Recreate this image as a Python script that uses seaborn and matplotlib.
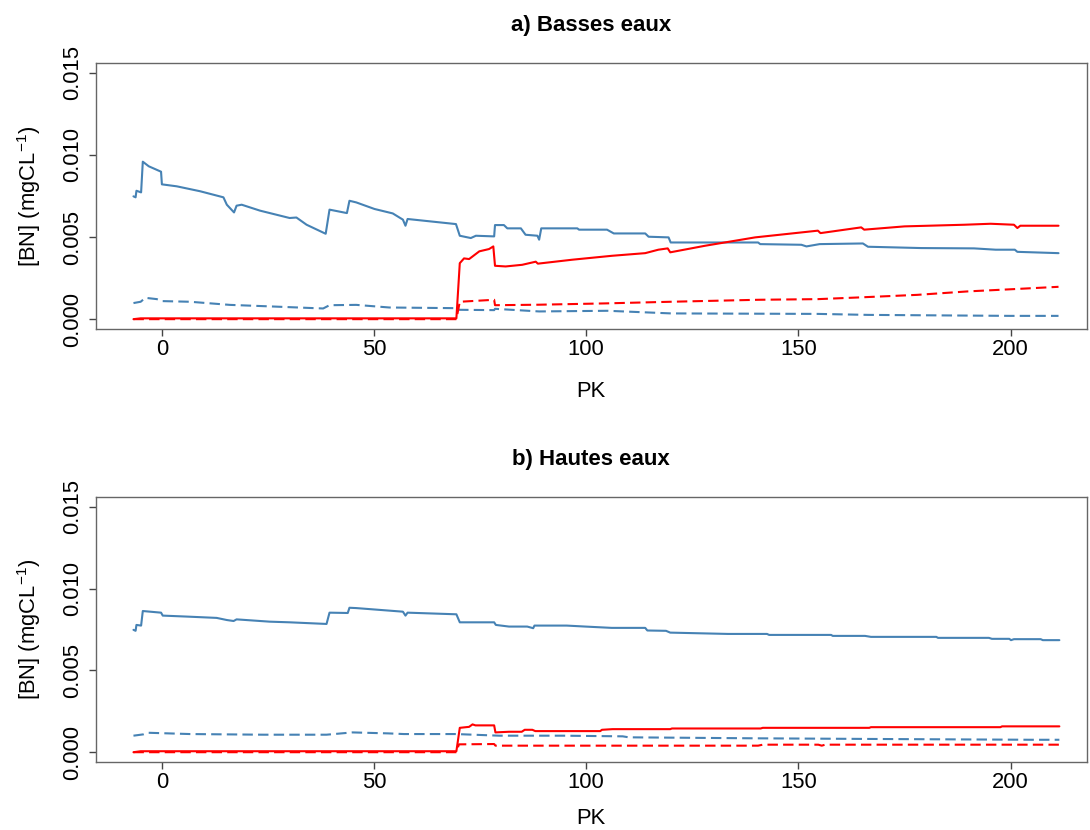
import numpy as np
import pandas as pd
import seaborn as sns
import matplotlib.pyplot as plt

# a) Basses eaux
a_blue_pk = [-6.7, -6.2, -6.0, -4.9, -4.5, -3.1, -0.2, 0.0, 3.5, 9.0, 14.5, 15.3, 17.0, 17.6, 18.8,
             23.1, 30.1, 31.7, 34.1, 38.6, 39.5, 43.6, 44.2, 45.8, 50.1, 54.4, 56.8, 57.4, 57.9, 69.3,
             70.2, 72.8, 74.0, 78.3, 78.5, 80.6, 81.4, 84.6, 85.7, 88.5, 88.9, 89.4, 97.9, 98.3, 104.9,
             106.5, 113.9, 114.7, 119.4, 119.9, 140.5, 141.0, 150.7, 151.9, 155.0, 165.2, 166.4, 172.7,
             178.9, 191.4, 196.5, 201.0, 201.6, 211.3]
a_blue_val = [0.00748, 0.00742, 0.00782, 0.00772, 0.00959, 0.00931, 0.00898, 0.00821, 0.00809, 0.00779,
              0.00742, 0.00697, 0.00650, 0.00691, 0.00697, 0.00661, 0.00616, 0.00619, 0.00575, 0.00520,
              0.00667, 0.00646, 0.00721, 0.00711, 0.00671, 0.00644, 0.00606, 0.00569, 0.00610, 0.00579,
              0.00508, 0.00494, 0.00508, 0.00504, 0.00573, 0.00573, 0.00553, 0.00553, 0.00514, 0.00508,
              0.00484, 0.00553, 0.00553, 0.00545, 0.00545, 0.00522, 0.00522, 0.00502, 0.00498, 0.00467,
              0.00467, 0.00457, 0.00453, 0.00443, 0.00457, 0.00461, 0.00441, 0.00437, 0.00433, 0.00431,
              0.00423, 0.00423, 0.00410, 0.00402]

a_red_pk = [-6.7, -5.0, 69.4, 70.2, 71.2, 72.4, 74.8, 77.1, 78.1, 78.5, 81.0, 84.9, 88.1, 88.6, 96.7,
            106.1, 113.9, 117.0, 119.2, 119.8, 128.0, 139.8, 154.6, 155.2, 164.8, 165.5, 175.0, 189.1,
            195.3, 200.8, 201.6, 202.3, 211.3]
a_red_val = [0.0, 0.00005, 0.00005, 0.00341, 0.00370, 0.00366, 0.00413, 0.00427, 0.00443, 0.00325,
             0.00321, 0.00331, 0.00350, 0.00338, 0.00362, 0.00386, 0.00402, 0.00423, 0.00431, 0.00407,
             0.00447, 0.00498, 0.00539, 0.00524, 0.00559, 0.00545, 0.00565, 0.00575, 0.00581, 0.00575,
             0.00555, 0.00569, 0.00569]

a_blue_d_pk = [-6.7, -5.0, -3.9, -1.2, 0.0, 6.6, 16.0, 26.2, 38.0, 39.5, 45.8, 53.6, 69.3, 70.1, 78.3,
               78.5, 88.9, 105.0, 120.0, 154.6, 166.4, 200.0, 211.3]
a_blue_d_val = [0.00098, 0.00106, 0.00130, 0.00122, 0.00110, 0.00106, 0.00087, 0.00077, 0.00065, 0.00085,
                0.00087, 0.00071, 0.00067, 0.00057, 0.00055, 0.00063, 0.00047, 0.00051, 0.00035, 0.00032,
                0.00026, 0.00020, 0.00020]

a_red_d_pk = [-6.7, 69.4, 70.2, 78.3, 78.5, 88.9, 104.5, 120.0, 140.5, 154.6, 164.0, 178.0, 189.9, 200.8, 211.3]
a_red_d_val = [0.0, 0.0, 0.00106, 0.00118, 0.00085, 0.00088, 0.00096, 0.00106, 0.00118, 0.00122,
               0.00132, 0.00148, 0.00169, 0.00183, 0.00197]

# b) Hautes eaux
b_blue_pk = [-6.7, -6.2, -6.0, -4.9, -4.5, -0.2, 0.2, 5.9, 12.9, 15.3, 16.9, 17.6, 25.4, 30.1, 38.8,
             39.5, 43.8, 44.2, 45.8, 56.8, 57.4, 57.9, 69.4, 70.2, 78.3, 78.7, 81.8, 86.1, 87.5, 87.8,
             95.4, 99.8, 106.0, 113.9, 114.4, 118.8, 119.8, 133.4, 142.6, 143.1, 157.7, 158.1, 165.7,
             167.1, 182.5, 182.9, 194.9, 195.6, 199.7, 200.1, 200.8, 207.1, 207.6, 211.5]
b_blue_val = [0.00748, 0.00742, 0.00778, 0.00774, 0.00863, 0.00853, 0.00835, 0.00829, 0.00821, 0.00808,
              0.00802, 0.00812, 0.00798, 0.00794, 0.00784, 0.00853, 0.00851, 0.00883, 0.00881, 0.00859,
              0.00835, 0.00853, 0.00843, 0.00794, 0.00794, 0.00778, 0.00768, 0.00768, 0.00758, 0.00774,
              0.00774, 0.00768, 0.00760, 0.00760, 0.00744, 0.00742, 0.00731, 0.00723, 0.00723, 0.00717,
              0.00717, 0.00711, 0.00711, 0.00705, 0.00705, 0.00699, 0.00699, 0.00693, 0.00693, 0.00685,
              0.00691, 0.00691, 0.00685, 0.00685]

b_red_pk = [-6.7, -5.0, 69.4, 70.2, 72.4, 73.2, 73.9, 78.3, 78.6, 81.8, 84.8, 85.5, 87.3, 88.0, 103.3,
            103.7, 106.2, 119.8, 120.2, 141.1, 141.6, 166.7, 167.1, 197.6, 198.0, 211.5]
b_red_val = [0.0, 0.00006, 0.00006, 0.00149, 0.00155, 0.00170, 0.00164, 0.00164, 0.00121, 0.00125,
             0.00125, 0.00137, 0.00137, 0.00129, 0.00129, 0.00137, 0.00141, 0.00141, 0.00145, 0.00145,
             0.00149, 0.00149, 0.00153, 0.00153, 0.00158, 0.00158]

b_blue_d_pk = [-6.7, -4.4, -3.4, 6.6, 23.9, 38.8, 44.9, 53.4, 57.0, 69.3, 79.5, 94.5, 108.6, 110.0,
               139.6, 167.1, 205.0, 211.5]
b_blue_d_val = [0.00101, 0.00109, 0.00119, 0.00111, 0.00107, 0.00107, 0.00121, 0.00115, 0.00111, 0.00111,
                0.00101, 0.00101, 0.00097, 0.00091, 0.00085, 0.00081, 0.00076, 0.00076]

b_red_d_pk = [-6.7, 69.4, 70.0, 78.3, 78.6, 140.5, 141.6, 154.7, 155.5, 156.3, 211.5]
b_red_d_val = [0.0, 0.0, 0.00048, 0.00050, 0.00040, 0.00040, 0.00046, 0.00046, 0.00040, 0.00046, 0.00046]

titles = ["a) Basses eaux", "b) Hautes eaux"]
x_ticks = [0, 50, 100, 150, 200]
y_ticks = [0.000, 0.005, 0.010, 0.015]
y_tick_labels = ["0.000", "0.005", "0.010", "0.015"]

sns.set_style("white")
plt.rcParams['font.family'] = ['Liberation Sans', 'DejaVu Sans']
plt.rcParams['mathtext.fontset'] = 'custom'
plt.rcParams['mathtext.rm'] = 'Liberation Sans'
plt.rcParams['mathtext.it'] = 'Liberation Sans'
plt.rcParams['text.color'] = 'black'
plt.rcParams['axes.labelcolor'] = 'black'

BLUE = "#4682B4"
RED = "#FF0000"
FS = 15.8
DASHED = (0, (5, 2.5))

fig = plt.figure(figsize=(10.9, 8.3), dpi=100)
ax_a = fig.add_axes([0.0878, 0.6036, 0.9094, 0.3205])
ax_b = fig.add_axes([0.0878, 0.0819, 0.9094, 0.3193])

panels = [
    (ax_a, [(a_blue_pk, a_blue_val, BLUE, "-"), (a_red_pk, a_red_val, RED, "-"),
            (a_blue_d_pk, a_blue_d_val, BLUE, DASHED), (a_red_d_pk, a_red_d_val, RED, DASHED)]),
    (ax_b, [(b_blue_pk, b_blue_val, BLUE, "-"), (b_red_pk, b_red_val, RED, "-"),
            (b_blue_d_pk, b_blue_d_val, BLUE, DASHED), (b_red_d_pk, b_red_d_val, RED, DASHED)]),
]

for (ax, series), title, xpad in zip(panels, titles, [15, 11]):
    # dashed lines first so the solid red hides the zero part of the dashed one
    for pk, val, col, ls in sorted(series, key=lambda s: s[3] == "-"):
        df = pd.DataFrame({"PK": pk, "BN": val})
        sns.lineplot(data=df, x="PK", y="BN", ax=ax, color=col, linestyle=ls, lw=1.5,
                     estimator=None, sort=False, errorbar=None)
    ax.set_xlim(-15.6, 218)
    ax.set_ylim(-0.0006, 0.0156)
    ax.set_xticks(x_ticks)
    ax.set_xticklabels([str(t) for t in x_ticks])
    ax.set_yticks(y_ticks)
    ax.set_yticklabels(y_tick_labels, rotation=90, va="center")
    ax.tick_params(axis="both", direction="out", length=5, width=1, color="#444444",
                   labelsize=FS, labelcolor="black", bottom=True, left=True)
    ax.tick_params(axis="x", pad=2)
    ax.tick_params(axis="y", pad=4)
    for sp in ax.spines.values():
        sp.set_visible(True)
        sp.set_color("#666666")
        sp.set_linewidth(1.0)
    ax.set_title(title, fontsize=16, fontweight="bold", pad=23, color="black")
    ax.set_xlabel("PK", fontsize=FS, labelpad=xpad)
    ax.set_ylabel("[BN] (mgCL$^{-1}$)", fontsize=FS, labelpad=14)
    ax.grid(False)

plt.savefig("out.png", dpi=100)
